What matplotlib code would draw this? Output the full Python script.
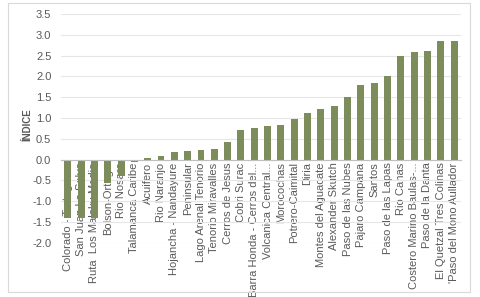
import matplotlib.pyplot as plt
from matplotlib.patches import Rectangle

# categories (in chart order) and index values
zonas = [
    'Colorado - Tortuguero', 'San Juan La Selva', 'Ruta  Los Maleku Medio',
    'Bolson-Ortega', 'Rio Nosara', 'Talamanca Caribe', 'Acuifero',
    'Rio Naranjo', 'Hojancha - Nandayure', 'Peninsular', 'Lago Arenal Tenorio',
    'Tenorio Miravalles', 'Cerros de Jesus', 'Cobri Surac',
    'Barra Honda - Cerros del...', 'Volcanica Central...', 'Morocochas',
    'Potrero-Caimital', 'Diria', 'Montes del Aguacate', 'Alexander Skutch',
    'Paso de las Nubes', 'Pajaro Campana', 'Santos', 'Paso de las Lapas',
    'Rio Canas', 'Costero Marino Baulas-...', 'Paso de la Danta',
    'El Quetzal Tres Colinas', "'Paso del Mono Aullador",
]
indice = [
    -1.40, -1.40, -1.40, -0.55, -0.40, -0.05, 0.04, 0.10, 0.18, 0.20,
    0.23, 0.26, 0.42, 0.72, 0.76, 0.81, 0.83, 0.97, 1.12, 1.21,
    1.28, 1.50, 1.80, 1.83, 2.02, 2.50, 2.58, 2.60, 2.86, 2.86,
]
yticks = [-2.0, -1.5, -1.0, -0.5, 0.0, 0.5, 1.0, 1.5, 2.0, 2.5, 3.0, 3.5]

plt.rcParams['font.family'] = ['Liberation Sans', 'DejaVu Sans']
txt = '#595959'

fig = plt.figure(figsize=(4.81, 2.97), dpi=100)
fig.patches.append(Rectangle((0.017, 0.017), 0.96, 0.973, transform=fig.transFigure,
                             fill=False, ec='#d9d9d9', lw=0.8))
ax = fig.add_axes([0.127, 0.182, 0.831, 0.771])

x = list(range(len(zonas)))
ax.bar(x, indice, width=0.52, color='#7d8c5b', zorder=2)
ax.set_xlim(-0.5, len(zonas) - 0.5)
ax.set_ylim(-2.0, 3.5)
ax.set_yticks(yticks)
ax.set_yticklabels([f'{v:.1f}' for v in yticks])
ax.grid(axis='y', color='#e6e6e6', lw=0.8, zorder=0)
ax.set_axisbelow(True)

for s in ['top', 'right', 'left']:
    ax.spines[s].set_visible(False)
ax.spines['bottom'].set_position(('data', 0))
ax.spines['bottom'].set_color('#bfbfbf')
ax.spines['bottom'].set_zorder(3)

ax.set_xticks(x)
ax.set_xticklabels(zonas, rotation=90, fontsize=8, color=txt)
ax.tick_params(axis='x', length=0, pad=2)
ax.tick_params(axis='y', length=0, pad=7, labelsize=8, labelcolor=txt)
for lab in ax.get_xticklabels():
    lab.set_zorder(4)

fig.text(0.058, 0.58, 'ÍNDICE', rotation=90, fontsize=7, fontweight='bold',
         color=txt, ha='center', va='center')

fig.savefig('out.png', dpi=100)
